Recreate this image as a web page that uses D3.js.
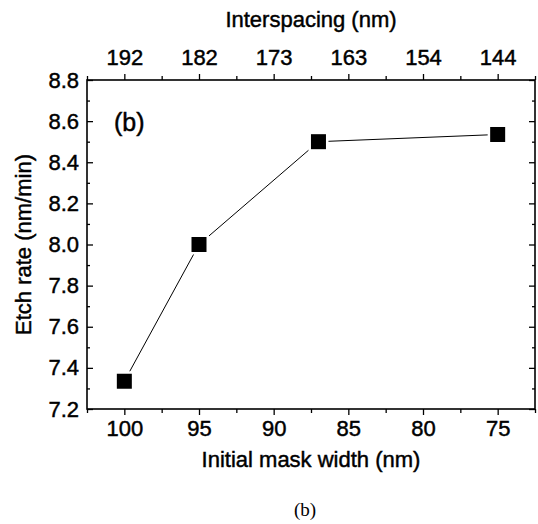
<!doctype html>
<html lang="en">
<head>
    <meta charset="UTF-8">
    <title>Etch rate vs initial mask width</title>
    <script src="https://d3js.org/d3.v7.min.js"></script>
    <style>
        body { margin: 0; background: #fff; }
        text { font-family: "Liberation Sans", Arial, sans-serif; fill: #000; stroke: #000; stroke-width: 0.45px; }
        .caption { font-family: "Liberation Serif", "Times New Roman", serif; stroke-width: 0; }
    </style>
</head>
<body>
<div id="chart"></div>
<script>
    // data
    var maskWidth = [100, 95, 87, 75];
    var etchRate = [7.335, 8.0, 8.5, 8.535];
    var xTicks = [100, 95, 90, 85, 80, 75];
    var xMinor = [102.5, 97.5, 92.5, 87.5, 82.5, 77.5, 72.5];
    var topLabels = ["192", "182", "173", "163", "154", "144"];
    var yTicks = [7.2, 7.4, 7.6, 7.8, 8.0, 8.2, 8.4, 8.6, 8.8];
    var yMinor = [7.3, 7.5, 7.7, 7.9, 8.1, 8.3, 8.5, 8.7];

    var W = 538, H = 524;
    var margin = {top: 80, right: 3, bottom: 115, left: 87},
        width = W - margin.left - margin.right,
        height = H - margin.top - margin.bottom;

    var svg = d3.select("#chart").append("svg")
        .attr("width", W)
        .attr("height", H);

    var g = svg.append("g")
        .attr("transform", "translate(" + margin.left + "," + margin.top + ")");

    var x = d3.scaleLinear().domain([102.5, 72.5]).range([0, width]);
    var y = d3.scaleLinear().domain([7.2, 8.8]).range([height, 0]);

    function styleAxis(sel, fs) {
        sel.select(".domain").remove();
        sel.selectAll("line").attr("stroke", "#000").attr("stroke-width", 1.3);
        sel.selectAll("text").style("font-size", fs + "px");
    }

    // bottom axis, ticks outward
    g.append("g").attr("transform", "translate(0," + height + ")")
        .call(d3.axisBottom(x).tickValues(xTicks).tickFormat(d3.format("d"))
            .tickSizeInner(6).tickSizeOuter(0).tickPadding(5))
        .call(styleAxis, 22);
    g.append("g").attr("transform", "translate(0," + height + ")")
        .call(d3.axisBottom(x).tickValues(xMinor).tickFormat("").tickSizeOuter(0).tickSizeInner(4))
        .call(styleAxis, 22);

    // top axis (interspacing), ticks outward
    g.append("g")
        .call(d3.axisTop(x).tickValues(xTicks)
            .tickFormat(function (d, i) { return topLabels[i]; })
            .tickSizeInner(6).tickSizeOuter(0).tickPadding(9))
        .call(styleAxis, 22);
    g.append("g")
        .call(d3.axisTop(x).tickValues(xMinor).tickFormat("").tickSizeOuter(0).tickSizeInner(4))
        .call(styleAxis, 22);

    // left axis, ticks inward
    g.append("g")
        .call(d3.axisLeft(y).tickValues(yTicks).tickFormat(d3.format(".1f"))
            .tickSizeInner(-6).tickSizeOuter(0).tickPadding(8))
        .call(styleAxis, 22);
    g.append("g")
        .call(d3.axisLeft(y).tickValues(yMinor).tickFormat("").tickSizeOuter(0).tickSizeInner(-3))
        .call(styleAxis, 22);

    // right axis, ticks inward, no labels
    g.append("g").attr("transform", "translate(" + width + ",0)")
        .call(d3.axisRight(y).tickValues(yTicks).tickFormat("").tickSizeInner(-6).tickSizeOuter(0))
        .call(styleAxis, 22);
    g.append("g").attr("transform", "translate(" + width + ",0)")
        .call(d3.axisRight(y).tickValues(yMinor).tickFormat("").tickSizeInner(-3).tickSizeOuter(0))
        .call(styleAxis, 22);

    // frame
    g.append("rect")
        .attr("width", width)
        .attr("height", height)
        .attr("fill", "none")
        .attr("stroke", "#000")
        .attr("stroke-width", 1.6);

    // line
    var pts = maskWidth.map(function (d, i) { return [d, etchRate[i]]; });
    g.append("path")
        .datum(pts)
        .attr("fill", "none")
        .attr("stroke", "#000")
        .attr("stroke-width", 1)
        .attr("d", d3.line()
            .x(function (d) { return x(d[0]); })
            .y(function (d) { return y(d[1]); }));

    // square markers with a white rim so the line stops short of them
    var s = 15;
    g.selectAll("rect.pt")
        .data(pts)
        .enter()
        .append("rect")
        .attr("class", "pt")
        .attr("x", function (d) { return x(d[0]) - s / 2; })
        .attr("y", function (d) { return y(d[1]) - s / 2; })
        .attr("width", s)
        .attr("height", s)
        .attr("fill", "#000")
        .attr("stroke", "#fff")
        .attr("stroke-width", 5)
        .attr("paint-order", "stroke");

    // panel label
    g.append("text")
        .attr("x", 27)
        .attr("y", 51)
        .style("font-size", "25px")
        .text("(b)");

    // axis titles
    svg.append("text")
        .attr("x", margin.left + width / 2)
        .attr("y", 27)
        .attr("text-anchor", "middle")
        .style("font-size", "22px")
        .text("Interspacing (nm)");

    svg.append("text")
        .attr("x", margin.left + width / 2)
        .attr("y", 467)
        .attr("text-anchor", "middle")
        .style("font-size", "22px")
        .text("Initial mask width (nm)");

    svg.append("text")
        .attr("transform", "translate(31," + (margin.top + height / 2) + ") rotate(-90)")
        .attr("text-anchor", "middle")
        .style("font-size", "22px")
        .text("Etch rate (nm/min)");

    // figure caption
    svg.append("text")
        .attr("class", "caption")
        .attr("x", margin.left + width / 2 - 6)
        .attr("y", 516)
        .attr("text-anchor", "middle")
        .style("font-size", "19px")
        .text("(b)");
</script>
</body>
</html>
